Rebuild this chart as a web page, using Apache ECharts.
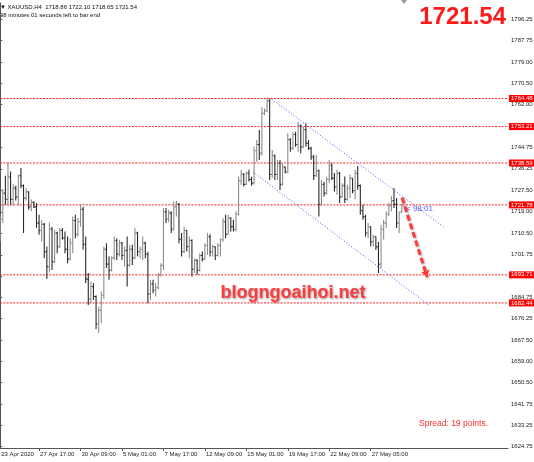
<!DOCTYPE html>
<html><head><meta charset="utf-8">
<script src="https://cdn.jsdelivr.net/npm/echarts@6/dist/echarts.min.js"></script>
<style>html,body{margin:0;padding:0;background:#fff}#c{width:534px;height:462px}</style>
</head><body><div id="c"></div>
<script>
const opens = [1708.5,1716.0,1726.5,1724.0,1733.0,1724.0,1728.5,1725.0,1733.5,1729.5,1724.5,1727.0,1721.0,1722.8,1721.0,1714.5,1711.5,1714.0,1703.0,1697.0,1712.0,1699.0,1710.5,1705.0,1711.5,1708.5,1704.0,1700.0,1706.5,1715.5,1710.0,1715.0,1720.0,1706.0,1692.0,1684.0,1689.0,1685.0,1674.0,1679.5,1685.5,1704.0,1698.0,1695.5,1700.5,1707.5,1702.0,1706.5,1701.5,1703.5,1697.5,1704.0,1700.5,1710.5,1703.0,1704.0,1706.5,1702.0,1686.0,1690.0,1687.5,1688.5,1693.5,1697.5,1719.0,1716.0,1718.5,1712.0,1721.0,1722.0,1708.0,1703.0,1711.5,1705.0,1707.5,1696.0,1699.5,1695.5,1701.5,1700.0,1705.5,1709.0,1703.0,1705.0,1701.5,1705.5,1707.8,1715.0,1710.0,1716.5,1713.0,1712.0,1718.0,1731.5,1734.0,1730.0,1734.5,1732.0,1730.5,1743.5,1746.0,1742.5,1758.5,1759.5,1763.5,1734.0,1741.5,1734.0,1738.5,1730.0,1737.0,1735.0,1748.0,1744.5,1750.0,1746.0,1753.5,1745.0,1752.0,1746.5,1744.5,1741.0,1733.5,1735.5,1722.0,1730.0,1726.5,1732.0,1737.5,1732.5,1729.0,1734.5,1725.0,1729.5,1724.0,1728.5,1732.5,1727.5,1734.5,1729.5,1719.5,1717.0,1710.5,1713.0,1707.0,1709.0,1705.0,1698.0,1712.0,1714.5,1718.0,1721.5,1723.5,1722.0,1714.5,1718.86];
const highs = [1717.4,1728.1,1733.5,1738.9,1735.2,1730.1,1729.5,1734.0,1736.6,1730.0,1728.5,1727.2,1723.9,1723.2,1722.5,1717.8,1715.7,1714.5,1705.1,1714.7,1712.9,1711.8,1711.0,1712.5,1712.5,1711.1,1709.1,1708.4,1717.1,1717.8,1716.5,1722.0,1721.0,1709.1,1694.4,1691.0,1690.4,1685.5,1680.9,1687.0,1705.0,1706.4,1701.1,1701.1,1709.1,1708.4,1707.8,1706.9,1705.1,1709.1,1705.8,1705.8,1712.5,1711.0,1705.1,1709.1,1707.0,1703.0,1691.7,1691.7,1690.4,1694.4,1698.4,1720.5,1720.5,1719.8,1719.2,1723.2,1723.4,1722.5,1710.5,1713.1,1711.8,1709.1,1708.0,1700.4,1700.0,1702.4,1703.1,1706.4,1710.5,1710.0,1705.8,1705.1,1706.4,1708.4,1716.5,1717.8,1717.8,1716.8,1715.8,1719.2,1733.2,1735.9,1734.6,1735.2,1735.9,1733.1,1745.1,1747.8,1751.8,1761.0,1760.5,1765.0,1764.5,1743.8,1742.0,1739.8,1739.8,1738.5,1737.1,1750.5,1748.5,1751.1,1751.1,1755.1,1754.0,1753.1,1754.5,1747.8,1745.1,1741.8,1741.8,1736.0,1731.8,1731.1,1733.1,1739.8,1738.5,1734.6,1735.9,1735.0,1730.5,1733.2,1729.9,1733.9,1732.6,1735.9,1737.4,1730.0,1721.8,1717.8,1714.5,1713.1,1709.8,1709.1,1707.0,1713.8,1715.8,1719.2,1722.5,1725.2,1728.5,1724.5,1719.0,1722.10];
const lows = [1707.1,1714.5,1721.8,1721.2,1721.8,1721.5,1723.5,1721.5,1728.5,1710.5,1723.5,1719.8,1719.2,1720.5,1712.6,1709.8,1707.1,1700.4,1692.0,1694.6,1695.7,1698.5,1702.4,1704.5,1707.8,1702.4,1698.4,1699.5,1702.4,1708.4,1709.1,1713.0,1703.8,1690.4,1681.6,1682.3,1683.6,1672.0,1670.5,1674.3,1684.0,1696.5,1691.7,1695.0,1699.7,1699.7,1701.1,1699.7,1697.1,1689.0,1697.1,1697.7,1700.0,1701.1,1700.4,1699.7,1700.4,1682.3,1683.5,1686.3,1685.0,1688.0,1693.0,1695.7,1714.5,1714.9,1710.5,1711.5,1717.1,1706.4,1701.1,1702.5,1703.1,1700.4,1693.0,1694.4,1693.7,1695.0,1699.1,1699.7,1701.7,1701.1,1701.1,1699.7,1701.1,1701.1,1707.0,1708.4,1709.8,1711.1,1711.1,1711.1,1717.5,1729.9,1729.2,1729.9,1731.2,1729.5,1730.0,1739.1,1739.8,1741.5,1757.8,1759.0,1731.8,1732.5,1731.8,1731.8,1727.8,1729.5,1734.5,1734.5,1743.1,1743.8,1745.1,1743.1,1742.5,1744.5,1745.1,1743.8,1739.8,1731.8,1733.0,1717.1,1721.5,1725.1,1726.0,1730.5,1731.8,1727.2,1725.9,1722.5,1724.5,1722.5,1723.5,1724.5,1726.5,1724.0,1727.9,1717.8,1715.8,1709.1,1708.4,1705.1,1705.1,1703.7,1694.4,1696.4,1707.8,1712.5,1717.2,1719.2,1720.5,1712.5,1710.5,1718.65];
const closes = [1716.0,1726.5,1724.0,1733.0,1724.0,1728.5,1725.0,1733.5,1729.5,1724.5,1727.0,1721.0,1722.8,1721.0,1714.5,1711.5,1714.0,1703.0,1697.0,1712.0,1699.0,1710.5,1705.0,1711.5,1708.5,1704.0,1700.0,1706.5,1715.5,1710.0,1715.0,1720.0,1706.0,1692.0,1684.0,1689.0,1685.0,1674.0,1679.5,1685.5,1704.0,1698.0,1695.5,1700.5,1707.5,1702.0,1706.5,1701.5,1703.5,1697.5,1704.0,1700.5,1710.5,1703.0,1704.0,1706.5,1702.0,1686.0,1690.0,1687.5,1688.5,1693.5,1697.5,1719.0,1716.0,1718.5,1712.0,1721.0,1722.0,1708.0,1703.0,1711.5,1705.0,1707.5,1696.0,1699.5,1695.5,1701.5,1700.0,1705.5,1709.0,1703.0,1705.0,1701.5,1705.5,1707.8,1715.0,1710.0,1716.5,1713.0,1712.0,1718.0,1731.5,1734.0,1730.0,1734.5,1732.0,1730.5,1743.5,1746.0,1742.5,1758.5,1759.5,1763.5,1734.0,1741.5,1734.0,1738.5,1730.0,1737.0,1735.0,1748.0,1744.5,1750.0,1746.0,1753.5,1745.0,1752.0,1746.5,1744.5,1741.0,1733.5,1735.5,1722.0,1730.0,1726.5,1732.0,1737.5,1732.5,1729.0,1734.5,1725.0,1729.5,1724.0,1728.5,1732.5,1727.5,1734.5,1729.5,1719.5,1717.0,1710.5,1713.0,1707.0,1709.0,1705.0,1698.0,1712.0,1714.5,1718.0,1721.5,1723.5,1722.0,1714.5,1718.86,1721.54];

const levels = [1764.48, 1753.21, 1738.59, 1721.78, 1693.71, 1682.44];
const yTicks = [1624.75,1633.25,1641.75,1650.50,1659.00,1667.50,1676.25,1684.75,1693.25,1701.75,1710.50,1719.00,1727.50,1736.25,1744.75,1753.25,1762.00,1770.50,1779.00,1787.75,1796.25];
const xTickIdx = [15,31,47,63,79,95,111,127,143];
const xTickLabels = ['27 Apr 17:00','30 Apr 09:00','5 May 01:00','7 May 17:00','12 May 09:00','15 May 01:00','19 May 17:00','22 May 09:00','27 May 05:00'];
const firstLabel = '23 Apr 2020';
const upperChannel = [[104.8,1764.15],[171.7,1712.5]];
const lowerChannel = [[97.6,1735.0],[165.9,1681.2]];
const arrowLine = [[155.1,1724.7],[164.8,1692.8]];

const X_MIN = -0.08, X_MAX = 196;
const FONT = "'Liberation Sans', Arial, sans-serif";
const ohlc = opens.map((o,i)=>[i,o,highs[i],lows[i],closes[i]]);

const levelSeries = levels.map(v=>({
  type:'line', name:'L'+v, data:[[X_MIN,v],[X_MAX,v]], symbol:'none', silent:true, z:2,
  color:'#ff2020',
  lineStyle:{color:'#ff2020',width:1,type:[2,1.3]},
  endLabel:{show:true,distance:1,formatter:()=>v.toFixed(2),
    backgroundColor:'#ff0000',color:'#ffffff',fontSize:6,lineHeight:7,fontFamily:FONT,padding:[0,2,0,2]}
}));

const chart = echarts.init(document.getElementById('c'), null, {renderer:'canvas'});
chart.setOption({
  animation:false,
  backgroundColor:'#ffffff',
  grid:{left:0,right:26,top:3,bottom:14,containLabel:false,outerBoundsMode:'none'},
  xAxis:{type:'value',min:X_MIN,max:X_MAX,
    axisLine:{show:true,lineStyle:{color:'#555',width:1}},
    splitLine:{show:false},
    axisTick:{show:true,length:3,lineStyle:{color:'#555'},customValues:xTickIdx},
    axisLabel:{show:true,customValues:[0].concat(xTickIdx),fontSize:6,fontFamily:FONT,color:'#222',align:'left',margin:3,padding:[0,0,0,1],
      formatter:v=>{ if(v===0) return firstLabel; const k=xTickIdx.indexOf(v); return k>=0?xTickLabels[k]:''; }}
  },
  yAxis:{type:'value',position:'right',min:1624.22,max:1802.8,scale:true,
    axisLine:{show:true,lineStyle:{color:'#555',width:1}},
    splitLine:{show:false},
    axisTick:{show:true,length:2,lineStyle:{color:'#555'},customValues:yTicks},
    axisLabel:{show:true,customValues:yTicks,fontSize:6,fontFamily:FONT,color:'#222',margin:3,
      formatter:v=>v.toFixed(2)}
  },
  series:[
    {type:'custom',name:'XAUUSD',data:ohlc,encode:{x:0,y:[1,2,3,4]},
      renderItem:(params,api)=>{
        const x=api.value(0),o=api.value(1),h=api.value(2),l=api.value(3),c=api.value(4);
        const po=api.coord([x,o]),ph=api.coord([x,h]),pl=api.coord([x,l]),pc=api.coord([x,c]);
        const col = c>=o ? '#8c8c8c' : '#2a2a2a';
        const st={stroke:col,lineWidth:1.1};
        const w=1.3;
        return {type:'group',children:[
          {type:'line',shape:{x1:ph[0],y1:ph[1],x2:pl[0],y2:pl[1]},style:st},
          {type:'line',shape:{x1:po[0]-w,y1:po[1],x2:po[0],y2:po[1]},style:st},
          {type:'line',shape:{x1:pc[0],y1:pc[1],x2:pc[0]+w,y2:pc[1]},style:st}
        ]};
      },z:3},
    ...levelSeries,
    {type:'line',name:'upper',data:upperChannel,symbol:'none',silent:true,color:'#5050ff',
      lineStyle:{color:'#5050ff',width:1,type:[1,2]},z:4},
    {type:'line',name:'lower',data:lowerChannel,symbol:'none',silent:true,color:'#5050ff',
      lineStyle:{color:'#5050ff',width:1,type:[1,2]},z:4,
      markLine:{silent:true,symbol:['none','arrow'],symbolSize:7,animation:false,
        lineStyle:{color:'#ff3b3b',width:3,type:[6,3],shadowColor:'rgba(0,0,0,0.35)',shadowBlur:2,shadowOffsetX:1,shadowOffsetY:1},
        itemStyle:{color:'#ff3b3b'},
        label:{show:false},
        data:[[{coord:arrowLine[0],lineStyle:{color:'#ff3b3b'}},{coord:arrowLine[1]}]]}
    }
  ],
  graphic:[
    {type:'text',style:{x:0,y:7,text:'\u25BC XAUUSD,H4  1718.86 1722.10 1718.65 1721.54',fontSize:6,fontFamily:FONT,fill:'#111',align:'left',verticalAlign:'middle'}},
    {type:'text',style:{x:0,y:15,text:'98 minutes 01 seconds left to bar end',fontSize:6,fontFamily:FONT,fill:'#111',align:'left',verticalAlign:'middle'}},
    {type:'text',style:{x:506,y:17,text:'1721.54',fontSize:24,fontWeight:'bold',fontFamily:FONT,fill:'#ff1a1a',align:'right',verticalAlign:'middle'}},
    {type:'text',style:{x:293,y:293,text:'blogngoaihoi.net',fontSize:18,fontWeight:'bold',fontFamily:FONT,fill:'#ff3b3b',align:'center',verticalAlign:'middle',
      textShadowColor:'rgba(0,0,0,0.4)',textShadowBlur:2,textShadowOffsetX:1,textShadowOffsetY:1}},
    {type:'text',style:{x:419,y:424,text:'Spread: 19 points.',fontSize:8.5,fontFamily:FONT,fill:'#ff3030',align:'left',verticalAlign:'middle'}},
    {type:'text',style:{x:406,y:209,text:'< 98:01',fontSize:8,fontFamily:FONT,fill:'#5a5aff',align:'left',verticalAlign:'middle'}},
    {type:'polygon',shape:{points:[[401,0],[407,0],[404,4]]},style:{fill:'#999'}}
  ]
});
</script></body></html>
